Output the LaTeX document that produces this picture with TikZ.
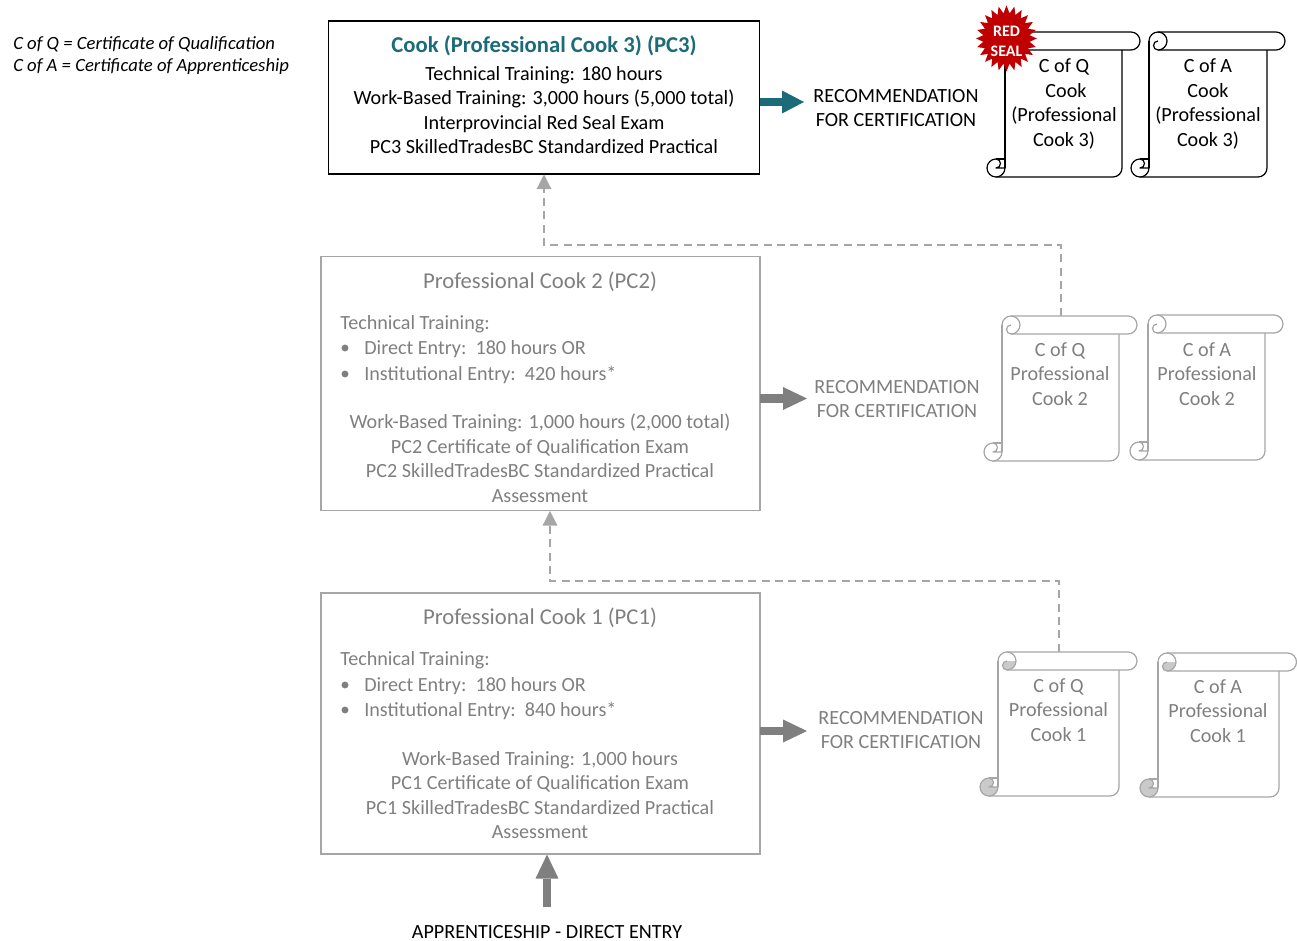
\documentclass[tikz,border=0pt]{standalone}
\usepackage{fontspec}
\setmainfont{Carlito}
\usetikzlibrary{arrows.meta,shapes.geometric}
\definecolor{teal1}{HTML}{1B6B78}
\definecolor{gtxt}{HTML}{7F7F7F}
\definecolor{gline}{HTML}{A6A6A6}
\definecolor{garrow}{HTML}{7F7F7F}
\definecolor{sealred}{HTML}{C00000}
\tikzset{
  px/.style={x=0.75pt,y=-0.75pt},
  txt/.style={inner sep=0pt,font=\fontsize{15.1}{18}\selectfont,text=black,anchor=base,yshift=-0.75pt},
  gt/.style={txt,text=gtxt},
  title/.style={txt,text=gtxt,font=\fontsize{17}{20}\selectfont},
  ttitle/.style={txt,text=teal1,font=\fontsize{17}{20}\selectfont\bfseries},
  boxa/.style={draw=black,line width=0.8pt,inner sep=0pt},
  boxb/.style={draw=gline,line width=0.8pt,inner sep=0pt},
  blockT/.style={draw=teal1,line width=5.5pt,-{Triangle[length=16.5pt,width=17.25pt,line width=0pt,fill=teal1]}},
  blockG/.style={draw=garrow,line width=6.5pt,-{Triangle[length=18pt,width=17.25pt,line width=0pt,fill=garrow]}},
  blockU/.style={draw=garrow,line width=6pt,-{Triangle[length=18pt,width=17.25pt,line width=0pt,fill=garrow]}},
  dashconn/.style={draw=gline,line width=1.3pt,dash pattern=on 6pt off 4pt,-{Triangle[length=11pt,width=11.25pt,line width=0pt,fill=gline]}},
  dot/.style={circle,fill=gtxt,inner sep=0pt,minimum size=5.2pt},
  leg/.style={txt,anchor=base west,font=\fontsize{14}{17}\selectfont\itshape},
}
% \scrollshape{name}{x0}{y0}{x1}{x2}{y1}{colour}{curl fill}
\newcommand{\scrollshape}[8]{%
  \node[inner sep=0pt,minimum width={(#4-#2)*0.75pt},minimum height={(#6-#3)*0.75pt}] (#1) at ({(#2+#4)/2},{(#3+#6)/2}) {};
  \begin{scope}[draw=#7,line width=0.9pt,line join=round]
    % body
    \draw (#2,#3+9) -- (#2,#6-9);
    \draw (#2-9,#6) -- (#4-9,#6) arc[start angle=270,end angle=360,radius=6.75pt] -- (#4,#3+18);
    % top roll
    \draw (#2,#3+9) arc[start angle=180,end angle=90,radius=6.75pt] -- (#5-9,#3) arc[start angle=90,end angle=-90,radius=6.75pt] -- (#2+9,#3+18);
    % top curl
    \fill[#8] (#2+9,#3+9) -- (#2+18,#3+9) arc[start angle=0,end angle=-90,radius=6.75pt] arc[start angle=270,end angle=90,radius=3.375pt] -- cycle;
    \draw (#2+9,#3) arc[start angle=90,end angle=-90,radius=6.75pt] arc[start angle=270,end angle=90,radius=3.375pt];
    % bottom curl
    \draw[fill=#8] (#2,#6-9) arc[start angle=0,end angle=-270,radius=6.75pt] arc[start angle=90,end angle=-90,radius=3.375pt] -- cycle;
    \draw (#2-9,#6-18) -- (#2,#6-18);
  \end{scope}
}
\begin{document}
\begin{tikzpicture}[px]
\useasboundingbox (0,0) rectangle (1297,941);
\node[leg] (legq) at (13,49) {C of Q = Certificate of Qualification};
\node[leg] (lega) at (13,71) {C of A = Certificate of Apprenticeship};

% boxes
\node[boxa,minimum width={431*0.75pt},minimum height={153*0.75pt}] (pc3) at (544,97.5) {};
\node[boxb,minimum width={439*0.75pt},minimum height={254*0.75pt}] (pc2) at (540.5,383.5) {};
\node[boxb,minimum width={439*0.75pt},minimum height={261*0.75pt}] (pc1) at (540.5,723.5) {};

% PC3 text
\node[ttitle] (t30) at (544,52) {Cook (Professional Cook 3) (PC3)};
\node[txt] (t31) at (544,80) {Technical Training: 180 hours};
\node[txt] (t32) at (544,104) {Work-Based Training: 3,000 hours (5,000 total)};
\node[txt] (t33) at (544,129) {Interprovincial Red Seal Exam};
\node[txt] (t34) at (544,153) {PC3 SkilledTradesBC Standardized Practical};

% PC2 text
\node[title] (t20) at (540,288) {Professional Cook 2 (PC2)};
\node[gt,anchor=base west] (t21) at (340,329) {Technical Training:};
\node[dot] (d21) at (345,348) {};
\node[gt,anchor=base west] (t22) at (364,354) {Direct Entry:\ \ 180 hours OR};
\node[dot] (d22) at (345,374) {};
\node[gt,anchor=base west] (t23) at (364,380) {Institutional Entry:\ \ 420 hours*};
\node[gt] (t24) at (540,428) {Work-Based Training: 1,000 hours (2,000 total)};
\node[gt] (t25) at (540,453) {PC2 Certificate of Qualification Exam};
\node[gt] (t26) at (540,477) {PC2 SkilledTradesBC Standardized Practical};
\node[gt] (t27) at (540,502) {Assessment};

% PC1 text
\node[title] (t10) at (540,623) {Professional Cook 1 (PC1)};
\node[gt,anchor=base west] (t11) at (340,664) {Technical Training:};
\node[dot] (d11) at (345,685) {};
\node[gt,anchor=base west] (t12) at (364,690) {Direct Entry:\ \ 180 hours OR};
\node[dot] (d12) at (345,710) {};
\node[gt,anchor=base west] (t13) at (364,715) {Institutional Entry:\ \ 840 hours*};
\node[gt] (t14) at (540,764) {Work-Based Training: 1,000 hours};
\node[gt] (t15) at (540,788) {PC1 Certificate of Qualification Exam};
\node[gt] (t16) at (540,813) {PC1 SkilledTradesBC Standardized Practical};
\node[gt] (t17) at (540,837) {Assessment};

% recommendation labels
\node[txt] (r3a) at (896,102) {RECOMMENDATION};
\node[txt] (r3b) at (896,126) {FOR CERTIFICATION};
\node[gt] (r2a) at (897,393) {RECOMMENDATION};
\node[gt] (r2b) at (897,417) {FOR CERTIFICATION};
\node[gt] (r1a) at (901,723) {RECOMMENDATION};
\node[gt] (r1b) at (901,747) {FOR CERTIFICATION};
\node[txt] (entry) at (547,937) {APPRENTICESHIP - DIRECT ENTRY};

% scrolls
\scrollshape{s3q}{1005}{32}{1122}{1140}{177}{black}{white}
\scrollshape{s3a}{1149}{32}{1267}{1285}{177}{black}{white}
\scrollshape{s2q}{1002}{316}{1119}{1137}{461}{gline}{white}
\scrollshape{s2a}{1148}{315}{1265}{1283}{460}{gline}{white}
\scrollshape{s1q}{998}{652}{1119}{1137}{796}{gline}{gline!60}
\scrollshape{s1a}{1158}{653}{1279}{1296.5}{797}{gline}{gline!60}

% scroll text
\node[txt] (q31) at (1064,72) {C of Q};
\node[txt] (q32) at (1066,97) {Cook};
\node[txt] (q33) at (1064,121) {(Professional};
\node[txt] (q34) at (1064,146) {Cook 3)};
\node[txt] (a31) at (1208,72) {C of A};
\node[txt] (a32) at (1208,97) {Cook};
\node[txt] (a33) at (1208,121) {(Professional};
\node[txt] (a34) at (1208,146) {Cook 3)};
\node[gt] (q21) at (1060,356) {C of Q};
\node[gt] (q22) at (1060,380) {Professional};
\node[gt] (q23) at (1060,405) {Cook 2};
\node[gt] (a21) at (1207,356) {C of A};
\node[gt] (a22) at (1207,380) {Professional};
\node[gt] (a23) at (1207,405) {Cook 2};
\node[gt] (q11) at (1058.5,691) {C of Q};
\node[gt] (q12) at (1058.5,715) {Professional};
\node[gt] (q13) at (1058.5,740) {Cook 1};
\node[gt] (a11) at (1218,692) {C of A};
\node[gt] (a12) at (1218,716) {Professional};
\node[gt] (a13) at (1218,741) {Cook 1};

% seal
\node[star,star points=24,star point ratio=1.3,fill=sealred,draw=none,minimum size={66*0.75pt},inner sep=0pt,xscale=0.92] (seal) at (1006.5,38.5) {};
\node[inner sep=0pt,text=white,align=center,font=\fontsize{12}{15}\selectfont\bfseries] (sealt) at (1006.5,41.5) {RED\\SEAL};

% arrows
\coordinate (a3s) at (760,102); \coordinate (a3e) at (804,102);
\draw[blockT] (a3s) -- (a3e);
\coordinate (a2s) at (760,398.5); \coordinate (a2e) at (807,398.5);
\draw[blockG] (a2s) -- (a2e);
\coordinate (a1s) at (760,731); \coordinate (a1e) at (807,731);
\draw[blockG] (a1s) -- (a1e);
\coordinate (eS) at (547,907);
\draw[blockU] (eS) -- (pc1.south -| eS);

% dashed
\coordinate (m2) at (1061,245);
\draw[dashconn] (s2q.north -| m2) -- (m2) -| (pc3.south);
\coordinate (m1) at (1059,581);
\coordinate (tgt1) at (550,511);
\draw[dashconn] (s1q.north -| m1) -- (m1) -| (tgt1);
\end{tikzpicture}
\end{document}
